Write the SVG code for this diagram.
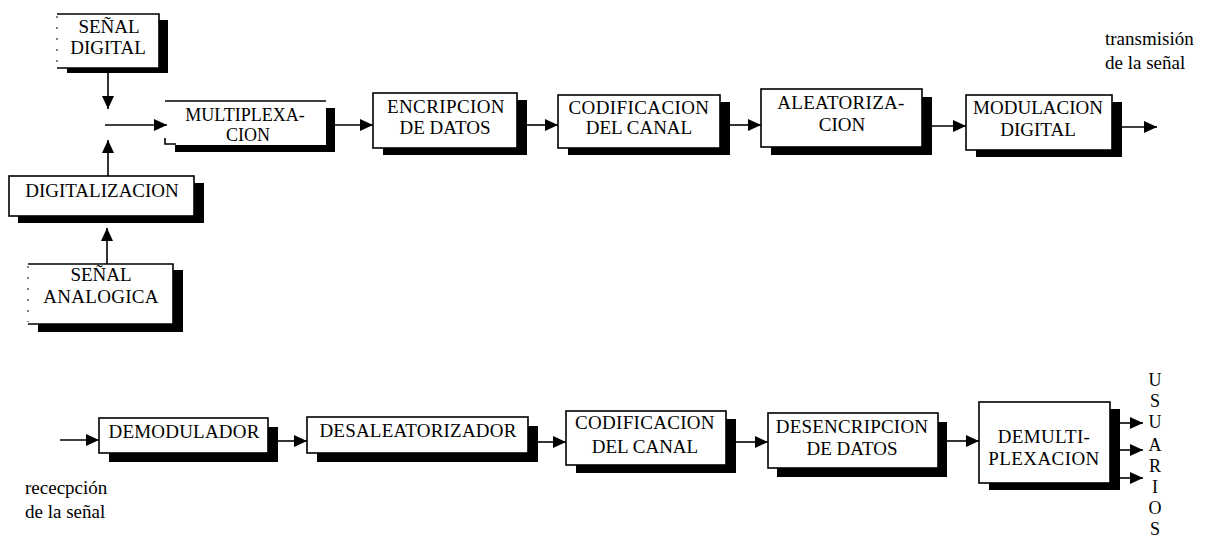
<svg xmlns="http://www.w3.org/2000/svg" width="1209" height="537" viewBox="0 0 1209 537" font-family="'Liberation Serif', 'DejaVu Serif', serif">
  <style>
    .box { fill: #fff; stroke: #000; stroke-width: 1.6; }
    .open { fill: #fff; stroke: none; }
    .edge { fill: none; stroke: #000; stroke-width: 1.6; }
    .faint { fill: none; stroke: #000; stroke-width: 1; stroke-dasharray: 2 9; }
    .shadow { fill: #000; }
    .link { fill: none; stroke: #000; stroke-width: 1.6; }
  </style>
  <defs>
    <marker id="head" markerUnits="userSpaceOnUse" markerWidth="14" markerHeight="12" viewBox="0 0 14 12" refX="13" refY="6" orient="auto">
      <path d="M0,0 L13,6 L0,12 Z" fill="#000"/>
    </marker>
  </defs>

  <rect width="1209" height="537" fill="#fff"/>

  <!-- box labels: centred, 19px -->
  <g font-size="19" text-anchor="middle" fill="#000">
    <!-- transmit chain -->
    <g id="senal-digital">
      <rect class="shadow" x="67" y="20" width="101" height="53"/>
      <rect class="open" x="57" y="14" width="102" height="54"/>
      <path class="edge" d="M57,14 H159 V68 H57"/>
      <line class="faint" x1="57" y1="16" x2="57" y2="66"/>
      <text x="109" y="33">SEÑAL</text>
      <text x="108" y="54">DIGITAL</text>
    </g>

    <g id="multiplexacion">
      <rect class="shadow" x="175" y="108" width="160" height="44"/>
      <rect class="open" x="165" y="101" width="161" height="44"/>
      <path class="edge" d="M165,101 H326"/>
      <path class="edge" d="M165,138 V144 H176"/>
      <text x="245" y="121" font-size="18">MULTIPLEXA-</text>
      <text x="248" y="141" font-size="18">CION</text>
    </g>

    <g id="digitalizacion">
      <rect class="shadow" x="18" y="183" width="186" height="40"/>
      <rect class="box" x="9" y="176" width="185" height="40"/>
      <text x="102" y="197">DIGITALIZACION</text>
    </g>

    <g id="senal-analogica">
      <rect class="shadow" x="38" y="270" width="145" height="62"/>
      <rect class="open" x="28" y="264" width="145" height="60"/>
      <path class="edge" d="M28,264 H173 V324 H28"/>
      <line class="faint" x1="28" y1="266" x2="28" y2="322"/>
      <text x="101" y="281">SEÑAL</text>
      <text x="101" y="303" letter-spacing="0.3">ANALOGICA</text>
    </g>

    <g id="encripcion">
      <rect class="shadow" x="383" y="100" width="144" height="55"/>
      <rect class="box" x="373" y="93" width="144" height="55"/>
      <text x="446" y="113" letter-spacing="0.4">ENCRIPCION</text>
      <text x="445" y="134">DE DATOS</text>
    </g>

    <g id="codificacion-tx">
      <rect class="shadow" x="568" y="102" width="162" height="53"/>
      <rect class="box" x="558" y="95" width="162" height="53"/>
      <text x="639" y="114" letter-spacing="0.4">CODIFICACION</text>
      <text x="639" y="134">DEL CANAL</text>
    </g>

    <g id="aleatorizacion">
      <rect class="shadow" x="771" y="97" width="161" height="58"/>
      <rect class="box" x="761" y="89" width="161" height="58"/>
      <text x="841" y="109" letter-spacing="0.3">ALEATORIZA-</text>
      <text x="842" y="131">CION</text>
    </g>

    <g id="modulacion">
      <rect class="shadow" x="976" y="102" width="146" height="55"/>
      <rect class="box" x="966" y="95" width="146" height="55"/>
      <text x="1038" y="114">MODULACION</text>
      <text x="1038" y="136">DIGITAL</text>
    </g>

    <!-- receive chain -->
    <g id="demodulador">
      <rect class="shadow" x="109" y="427" width="169" height="35"/>
      <rect class="box" x="99" y="418" width="169" height="35"/>
      <text x="184" y="438" letter-spacing="0.2">DEMODULADOR</text>
    </g>

    <g id="desaleatorizador">
      <rect class="shadow" x="317" y="426" width="221" height="36"/>
      <rect class="box" x="307" y="417" width="221" height="36"/>
      <text x="418" y="437" letter-spacing="0.2">DESALEATORIZADOR</text>
    </g>

    <g id="codificacion-rx">
      <rect class="shadow" x="576" y="419" width="160" height="54"/>
      <rect class="box" x="566" y="411" width="160" height="54"/>
      <text x="645" y="429" letter-spacing="0.3">CODIFICACION</text>
      <text x="645" y="453">DEL CANAL</text>
    </g>

    <g id="desencripcion">
      <rect class="shadow" x="777" y="422" width="170" height="55"/>
      <rect class="box" x="768" y="413" width="170" height="55"/>
      <text x="852" y="433" letter-spacing="0.2">DESENCRIPCION</text>
      <text x="852" y="455">DE DATOS</text>
    </g>

    <g id="demultiplexacion">
      <rect class="shadow" x="989" y="409" width="131" height="81"/>
      <rect class="box" x="979" y="402" width="131" height="81"/>
      <text x="1044" y="443" letter-spacing="0.3">DEMULTI-</text>
      <text x="1044" y="465" letter-spacing="0.4">PLEXACION</text>
    </g>

    <g id="label-usuarios" font-size="18">
      <text x="1155" y="386">U</text>
      <text x="1155" y="407">S</text>
      <text x="1155" y="428">U</text>
      <text x="1155" y="451">A</text>
      <text x="1155" y="472">R</text>
      <text x="1155" y="493">I</text>
      <text x="1155" y="514">O</text>
      <text x="1155" y="535">S</text>
    </g>
  </g>

  <!-- free-standing captions -->
  <g font-size="19" fill="#000">
    <g id="label-transmision">
      <text x="1105" y="45">transmisión</text>
      <text x="1105" y="69">de la señal</text>
    </g>
    <g id="label-recepcion">
      <text x="25" y="494">rececpción</text>
      <text x="25" y="518">de la señal</text>
    </g>
  </g>

  <!-- connectors -->
  <g id="connectors">
    <line class="link" x1="108" y1="72" x2="108" y2="109" marker-end="url(#head)"/>
    <line class="link" x1="105" y1="125" x2="167" y2="125" marker-end="url(#head)"/>
    <line class="link" x1="108" y1="176" x2="108" y2="140" marker-end="url(#head)"/>
    <line class="link" x1="107" y1="264" x2="107" y2="228" marker-end="url(#head)"/>
    <line class="link" x1="335" y1="125" x2="373" y2="125" marker-end="url(#head)"/>
    <line class="link" x1="527" y1="125" x2="558" y2="125" marker-end="url(#head)"/>
    <line class="link" x1="730" y1="125" x2="761" y2="125" marker-end="url(#head)"/>
    <line class="link" x1="932" y1="126" x2="966" y2="126" marker-end="url(#head)"/>
    <line class="link" x1="1122" y1="127" x2="1157" y2="127" marker-end="url(#head)"/>
    <line class="link" x1="60" y1="440" x2="99" y2="440" marker-end="url(#head)"/>
    <line class="link" x1="278" y1="441" x2="307" y2="441" marker-end="url(#head)"/>
    <line class="link" x1="538" y1="442" x2="566" y2="442" marker-end="url(#head)"/>
    <line class="link" x1="736" y1="442" x2="768" y2="442" marker-end="url(#head)"/>
    <line class="link" x1="947" y1="441" x2="979" y2="441" marker-end="url(#head)"/>
    <line class="link" x1="1120" y1="423" x2="1143" y2="423" marker-end="url(#head)"/>
    <line class="link" x1="1120" y1="450" x2="1143" y2="450" marker-end="url(#head)"/>
    <line class="link" x1="1120" y1="478" x2="1143" y2="478" marker-end="url(#head)"/>
  </g>
</svg>
